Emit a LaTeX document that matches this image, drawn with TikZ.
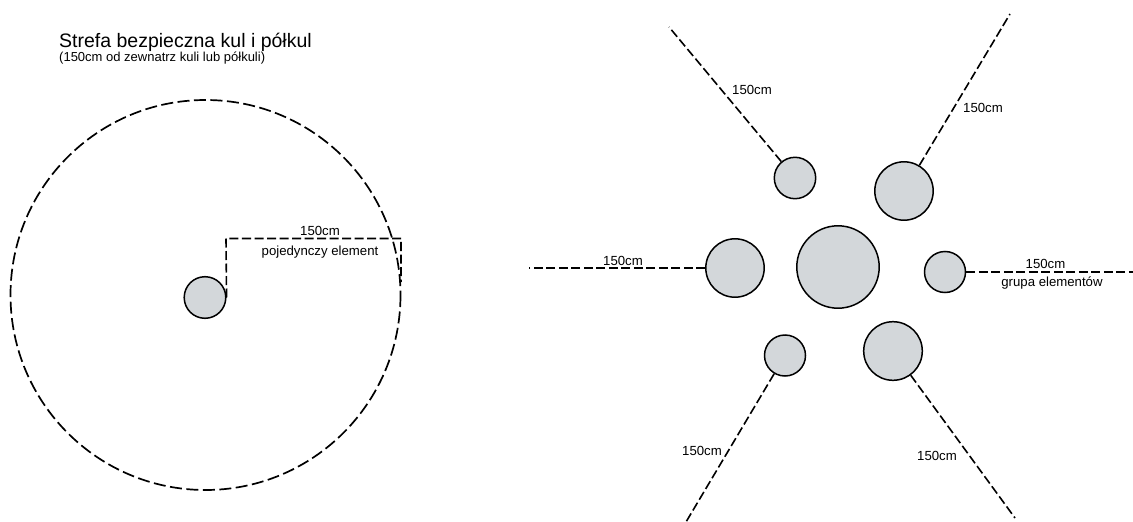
\documentclass[tikz,border=0pt]{standalone}
\usepackage{fontspec}
\setmainfont{Liberation Sans}
\definecolor{ballfill}{RGB}{211,215,218}
\tikzset{
  ball/.style={circle,draw=black,fill=ballfill,line width=1.5pt,inner sep=0pt},
  dimline/.style={draw=black,line width=1.6pt,dash pattern=on 9pt off 3.5pt},
  zone/.style={draw=black,line width=1.7pt,dash pattern=on 12pt off 4.5pt},
  lbl/.style={font=\fontsize{13.2}{15}\selectfont,inner sep=0pt,anchor=base}
}
\begin{document}
\begin{tikzpicture}[x=1pt,y=-1pt]
\useasboundingbox (0,0) rectangle (1133,522);
% title
\node[anchor=base west,inner sep=0pt,font=\fontsize{19.5}{22}\selectfont] (title) at (59,47) {Strefa bezpieczna kul i półkul};
\node[anchor=base west,inner sep=0pt,font=\fontsize{13}{15}\selectfont] (subtitle) at (59,61) {(150cm od zewnatrz kuli lub półkuli)};
% left: single element
\draw[zone] (205.5,295) circle[radius=195];
\node[ball,minimum size=41.6pt] (single) at (205,297.5) {};
\coordinate (d1) at (226,238.5);
\coordinate (d2) at (401,238.5);
\coordinate (d3) at (401,282);
\draw[dimline] (single.east) -- (d1) -- (d2) -- (d3);
\node[lbl] (s150) at (320,235.5) {150cm};
\node[lbl] (spoj) at (320,255) {pojedynczy element};
% right: group
\node[ball,minimum size=41.4pt] (tl) at (795,178) {};
\node[ball,minimum size=58.4pt] (tr) at (904,191) {};
\node[ball,minimum size=58.4pt] (ml) at (735,268) {};
\node[ball,minimum size=82.4pt] (mc) at (838,267) {};
\node[ball,minimum size=41pt] (mr) at (945,272) {};
\node[ball,minimum size=41pt] (bl) at (785,355.5) {};
\node[ball,minimum size=58.6pt] (br) at (893,351) {};
\coordinate (etl) at (669,27);
\coordinate (etr) at (1010,14);
\coordinate (eml) at (529,268);
\coordinate (emr) at (1133,272);
\coordinate (ebl) at (686,522);
\coordinate (ebr) at (1015,518);
\draw[dimline] (tl) -- (etl);
\draw[dimline] (tr) -- (etr);
\draw[dimline] (ml.west) -- (eml);
\draw[dimline] (mr.east) -- (emr);
\draw[dimline] (bl) -- (ebl);
\draw[dimline] (br) -- (ebr);
\node[lbl] (ltl) at (752,94) {150cm};
\node[lbl] (ltr) at (983,112) {150cm};
\node[lbl] (lml) at (623,265) {150cm};
\node[lbl] (lmr) at (1045.5,268) {150cm};
\node[lbl] (lgr) at (1052,286.5) {grupa elementów};
\node[lbl] (lbl) at (702,455) {150cm};
\node[lbl] (lbr) at (937,460) {150cm};
\end{tikzpicture}
\end{document}
